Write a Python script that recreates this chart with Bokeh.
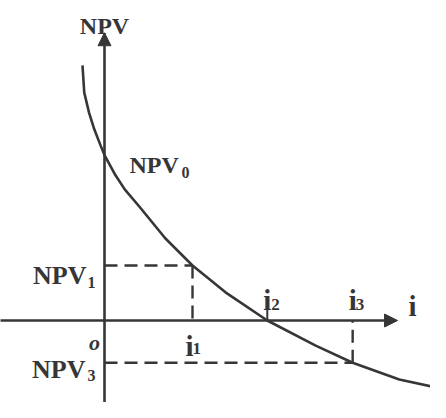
from bokeh.plotting import figure
from bokeh.models import Range1d, Label, Arrow, NormalHead
from bokeh.embed import file_html
from bokeh.resources import INLINE

# ---- data ----
i_curve = [-2.5, -2.3, -1.75, -1.15, -0.45, 0.0, 1.25, 2.3, 4.0, 6.9, 10.0, 13.75, 18.5, 24.0, 28.2, 33.5, 37.6]
npv_curve = [29.0, 25.9, 23.6, 21.7, 19.9, 18.8, 16.5, 14.9, 12.9, 9.35, 6.25, 3.2, 0.0, -2.85, -4.8, -6.7, -7.6]

i_marks = [10.0, 18.5, 28.2]          # i1, i2, i3
npv0 = 18.8
npv1 = 6.25
npv3 = -4.8

x_axis_span = [-12.0, 33.3]
y_axis_span = [-10.0, 32.7]

INK = "#363636"
FONT = "Liberation Serif"

p = figure(width=430, height=402, output_backend="svg", toolbar_location=None,
           x_range=Range1d(-11.818, 37.045), y_range=Range1d(-9.318, 36.364),
           min_border=0, outline_line_color=None)
p.axis.visible = False
p.grid.visible = False
p.background_fill_color = "white"
p.border_fill_color = "white"

# axes with arrows
p.add_layout(Arrow(end=NormalHead(size=13, fill_color=INK, line_color=INK, line_width=1),
                   x_start=x_axis_span[0], y_start=0, x_end=x_axis_span[1], y_end=0,
                   line_color=INK, line_width=2.6))
p.add_layout(Arrow(end=NormalHead(size=13, fill_color=INK, line_color=INK, line_width=1),
                   x_start=0, y_start=y_axis_span[0], x_end=0, y_end=y_axis_span[1],
                   line_color=INK, line_width=2.6))

# dashed guides
i1, i2, i3 = i_marks
p.segment(x0=[0, i1, 0, i3], y0=[npv1, npv1, npv3, npv3],
          x1=[i1, i1, i3, i3], y1=[npv1, 0, npv3, 0],
          line_color=INK, line_width=2.4, line_dash="13 7")
# small tick at i2
p.segment(x0=[i2], y0=[0], x1=[i2], y1=[1.2], line_color=INK, line_width=2)

# NPV curve
p.line(i_curve, npv_curve, line_color=INK, line_width=2.6)

def lab(x, y, text, dx, dy, size, align="left", style="bold"):
    p.add_layout(Label(x=x, y=y, text=text, x_offset=dx, y_offset=dy,
                       text_font=FONT, text_font_size=f"{size}px",
                       text_font_style=style, text_color=INK,
                       text_align=align, text_baseline="alphabetic"))

lab(0, y_axis_span[1], "NPV", 0, 7, 24, align="center")
lab(0, npv0, "NPV", 25, -10, 24)
lab(0, npv0, "0", 77, -17, 16)
lab(0, npv1, "NPV", -18, -10, 26, align="right")
lab(0, npv1, "1", -17, -17, 16)
lab(0, npv3, "NPV", -19, -7, 26, align="right")
lab(0, npv3, "3", -17, -13, 16)
lab(0, 0, "o", -10, -22, 22, align="center", style="bold italic")
lab(i1, 0, "i", -7, -25, 29)
lab(i1, 0, "1", 0, -28, 17)
lab(i2, 0, "i", -4, 21, 29)
lab(i2, 0, "2", 4, 16, 17)
lab(i3, 0, "i", -4, 21, 29)
lab(i3, 0, "3", 3, 16, 17)
lab(x_axis_span[1], 0, "i", 15, 15, 29, align="center")

open("out.html", "w").write(file_html(p, INLINE))
